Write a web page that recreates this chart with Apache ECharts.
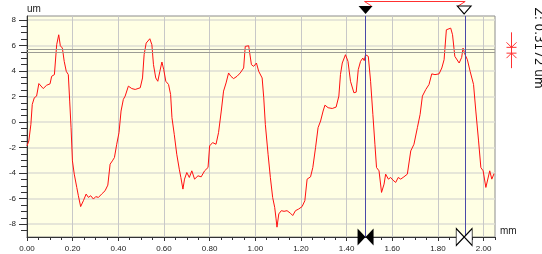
<!DOCTYPE html>
<html>
<head>
<meta charset="utf-8">
<script src="https://cdn.jsdelivr.net/npm/echarts@6/dist/echarts.min.js"></script>
<style>
  html, body { margin: 0; padding: 0; background: #fff; }
  #chart { width: 542px; height: 254px; }
</style>
</head>
<body>
<div id="chart"></div>
<script>
// profile trace: position along the scan (mm) and height (um)
const distanceMm = [
  0.000, 0.008, 0.017, 0.023, 0.032, 0.042, 0.052, 0.060, 0.071, 0.086,
  0.101, 0.108, 0.120, 0.130, 0.139, 0.146, 0.155, 0.163, 0.172, 0.181,
  0.187, 0.193, 0.199, 0.207, 0.218, 0.225, 0.235, 0.247, 0.259, 0.269,
  0.279, 0.291, 0.301, 0.313, 0.327, 0.342, 0.354, 0.364, 0.374, 0.383,
  0.393, 0.403, 0.412, 0.422, 0.430, 0.444, 0.459, 0.474, 0.496, 0.506,
  0.513, 0.522, 0.538, 0.547, 0.554, 0.564, 0.573, 0.582, 0.591, 0.599,
  0.608, 0.620, 0.629, 0.635, 0.645, 0.656, 0.667, 0.674, 0.683, 0.690,
  0.700, 0.711, 0.722, 0.734, 0.749, 0.763, 0.778, 0.793, 0.800, 0.813,
  0.828, 0.839, 0.851, 0.861, 0.872, 0.883, 0.893, 0.905, 0.920, 0.934,
  0.949, 0.956, 0.971, 0.983, 0.993, 1.005, 1.015, 1.030, 1.037, 1.044,
  1.056, 1.066, 1.076, 1.085, 1.091, 1.095, 1.103, 1.114, 1.126, 1.139,
  1.154, 1.164, 1.176, 1.190, 1.205, 1.217, 1.227, 1.242, 1.252, 1.264,
  1.275, 1.286, 1.297, 1.305, 1.319, 1.337, 1.354, 1.366, 1.373, 1.381,
  1.395, 1.406, 1.417, 1.432, 1.442, 1.451, 1.461, 1.471, 1.477, 1.483,
  1.495, 1.505, 1.515, 1.524, 1.531, 1.542, 1.553, 1.564, 1.571, 1.583,
  1.593, 1.603, 1.615, 1.626, 1.637, 1.651, 1.666, 1.681, 1.695, 1.710,
  1.722, 1.732, 1.747, 1.761, 1.773, 1.787, 1.805, 1.817, 1.827, 1.837,
  1.856, 1.864, 1.874, 1.893, 1.904, 1.910, 1.919, 1.929, 1.941, 1.956,
  1.966, 1.978, 1.988, 1.998, 2.010, 2.017, 2.027, 2.036, 2.046
]
const heightUm = [
  -1.87, -1.48, -0.18, 1.38, 1.90, 2.03, 3.01, 2.94, 2.62, 2.88,
  2.99, 3.58, 3.71, 6.05, 6.83, 5.97, 5.79, 4.75, 3.97, 3.71,
  1.64, -0.44, -3.04, -4.08, -5.12, -5.77, -6.62, -6.16, -5.64, -5.90,
  -5.77, -6.03, -5.84, -5.90, -5.64, -5.38, -4.94, -3.30, -3.04, -2.78,
  -1.74, -0.83, 0.86, 1.77, 2.03, 2.81, 2.62, 2.55, 2.68, 3.45,
  5.27, 6.18, 6.52, 6.05, 4.49, 3.45, 3.19, 3.97, 4.70, 4.10,
  3.19, 2.94, 2.16, 0.34, -0.96, -2.52, -3.69, -4.34, -5.25, -4.47,
  -3.95, -4.34, -3.82, -4.47, -4.21, -4.29, -3.82, -3.56, -1.87, -1.61,
  -1.74, -0.83, 0.86, 2.42, 3.06, 3.84, 3.58, 3.40, 3.58, 3.84,
  4.23, 5.92, 5.97, 4.49, 4.36, 4.62, 3.97, 3.45, 1.90, -0.18,
  -2.52, -4.34, -5.90, -6.68, -7.58, -8.23, -7.19, -6.94, -6.99, -6.94,
  -7.14, -7.32, -6.94, -6.81, -6.62, -6.16, -4.47, -4.29, -3.56, -2.00,
  -0.44, 0.08, 0.86, 1.32, 1.12, 1.06, 1.17, 2.03, 3.71, 4.62,
  5.27, 4.75, 3.19, 2.29, 2.34, 4.10, 4.75, 5.01, 4.81, 5.27,
  5.14, 3.19, 0.60, -1.74, -3.56, -3.82, -5.51, -4.86, -4.08, -4.47,
  -4.34, -4.55, -4.73, -4.34, -4.47, -4.29, -4.08, -2.26, -1.74, -0.44,
  0.60, 2.03, 2.55, 2.94, 3.77, 3.71, 3.77, 4.23, 4.88, 7.22,
  7.35, 6.83, 5.14, 4.62, 5.06, 5.79, 5.27, 4.88, 3.97, 2.94,
  0.86, -1.48, -3.56, -3.82, -5.12, -5.25, -3.82, -4.47, -4.03
]

// cursors
const cursorMm = [1.483, 1.915]
const levelUm = [5.69, 5.47]
const zText = 'Z: 0.3172 um'

// axis ranges and ticks
const xRange = [0, 2.05]
const yRange = [-9, 8.3]
const xMajorTicks = [0, 0.2, 0.4, 0.6, 0.8, 1.0, 1.2, 1.4, 1.6, 1.8, 2.0]
const yMajorTicks = [-8, -6, -4, -2, 0, 2, 4, 6, 8]
const xMinorTicks = []
for (let i = 0; i <= 41; i++) xMinorTicks.push(+(i * 0.05).toFixed(2))
const yMinorTicks = []
for (let i = -17; i <= 16; i++) yMinorTicks.push(i * 0.5)

const axisColor = '#333'
const labelFont = { fontFamily: 'Liberation Sans', fontSize: 8, color: '#222' }

const chart = echarts.init(document.getElementById('chart'), null, { renderer: 'canvas' })

const option = {
  animation: false,
  grid: {
    left: 27, top: 16, right: 47, bottom: 17,
    show: true,
    backgroundColor: '#ffffe4',
    borderColor: '#8c8c8c',
    borderWidth: 1
  },
  xAxis: [
    {
      type: 'value', min: xRange[0], max: xRange[1], interval: 0.2, position: 'bottom',
      name: 'mm', nameLocation: 'end', nameGap: 5,
      nameTextStyle: { fontFamily: 'Liberation Sans', fontSize: 10, color: '#222', verticalAlign: 'bottom', padding: [0, 0, 1, 0] },
      axisLine: { onZero: false, lineStyle: { color: axisColor } },
      axisTick: { customValues: xMajorTicks, length: 4, lineStyle: { color: axisColor } },
      axisLabel: { customValues: xMajorTicks, margin: 8, formatter: v => v.toFixed(2), ...labelFont },
      splitLine: { show: true, lineStyle: { color: '#c8c8c8', width: 1 } }
    },
    {
      type: 'value', min: xRange[0], max: xRange[1], interval: 0.2, position: 'bottom',
      axisLine: { show: false, onZero: false },
      axisTick: { customValues: xMinorTicks, length: 3, lineStyle: { color: axisColor } },
      axisLabel: { show: false },
      splitLine: { show: false }
    }
  ],
  yAxis: [
    {
      type: 'value', min: yRange[0], max: yRange[1], splitNumber: 9, position: 'left',
      name: 'um', nameLocation: 'end', nameGap: 2,
      nameTextStyle: { fontFamily: 'Liberation Sans', fontSize: 10, color: '#222', align: 'left', verticalAlign: 'bottom' },
      axisLine: { onZero: false, lineStyle: { color: axisColor } },
      axisTick: { customValues: yMajorTicks, length: 8, lineStyle: { color: axisColor } },
      axisLabel: { customValues: yMajorTicks, margin: 11, ...labelFont },
      splitLine: { show: true, lineStyle: { color: '#deded4', width: 1.5 } }
    },
    {
      type: 'value', min: yRange[0], max: yRange[1], splitNumber: 9, position: 'left',
      axisLine: { show: false, onZero: false },
      axisTick: { customValues: yMinorTicks, length: 6, lineStyle: { color: axisColor } },
      axisLabel: { show: false },
      splitLine: { show: false }
    }
  ],
  series: [
    {
      type: 'line',
      data: distanceMm.map((x, i) => [x, heightUm[i]]),
      symbol: 'none',
      lineStyle: { color: '#ff1010', width: 1 },
      markLine: {
        silent: true,
        symbol: 'none',
        label: { show: false },
        data: [
          { yAxis: levelUm[0], lineStyle: { color: '#9c9c94', width: 1, type: 'solid' } },
          { yAxis: levelUm[1], lineStyle: { color: '#9c9c94', width: 1, type: 'solid' } },
          { xAxis: cursorMm[0], lineStyle: { color: '#4a4aa8', width: 1, type: 'solid' } },
          { xAxis: cursorMm[1], lineStyle: { color: '#4a4aa8', width: 1, type: 'solid' } }
        ]
      },
      markPoint: {
        silent: true,
        label: { show: false },
        data: [
          // top cursor handles
          { coord: [cursorMm[0], yRange[1]], symbol: 'triangle', symbolSize: [14, 8], symbolRotate: 180, symbolOffset: [0, -6], itemStyle: { color: '#000' } },
          { coord: [cursorMm[1], yRange[1]], symbol: 'triangle', symbolSize: [14, 8], symbolRotate: 180, symbolOffset: [0, -6], itemStyle: { color: '#fff', borderColor: '#000', borderWidth: 1 } },
          // bottom bow-tie handles
          { coord: [cursorMm[0], yRange[0]], symbol: 'triangle', symbolSize: [17, 8], symbolRotate: -90, symbolOffset: [-4, 0], itemStyle: { color: '#000' } },
          { coord: [cursorMm[0], yRange[0]], symbol: 'triangle', symbolSize: [17, 8], symbolRotate: 90, symbolOffset: [4, 0], itemStyle: { color: '#000' } },
          { coord: [cursorMm[1], yRange[0]], symbol: 'triangle', symbolSize: [17, 8], symbolRotate: -90, symbolOffset: [-4, 0], itemStyle: { color: '#fff', borderColor: '#000', borderWidth: 1 } },
          { coord: [cursorMm[1], yRange[0]], symbol: 'triangle', symbolSize: [17, 8], symbolRotate: 90, symbolOffset: [4, 0], itemStyle: { color: '#fff', borderColor: '#000', borderWidth: 1 } }
        ]
      }
    }
  ]
}

chart.setOption(option)

// decorations outside the plot, placed from the cursor values
const leftPx = chart.convertToPixel({ xAxisIndex: 0 }, cursorMm[0])
const rightPx = chart.convertToPixel({ xAxisIndex: 0 }, cursorMm[1])
const lvlA = chart.convertToPixel({ yAxisIndex: 0 }, levelUm[0])
const lvlB = chart.convertToPixel({ yAxisIndex: 0 }, levelUm[1])
const zx = 511.5
const red = '#ff3030'
const stroke = { stroke: red, lineWidth: 1, fill: 'none' }

chart.setOption({
  graphic: [
    // double arrow between cursors (cut at the top edge)
    { type: 'polyline', silent: true, shape: { points: [[leftPx + 6, 6], [leftPx - 1, 1.5], [rightPx + 1, 1.5], [rightPx - 6, 6]] }, style: stroke },
    // Z marker
    { type: 'line', silent: true, shape: { x1: zx, y1: lvlA - 17, x2: zx, y2: lvlB + 16 }, style: stroke },
    { type: 'polyline', silent: true, shape: { points: [[zx - 5, lvlA - 7], [zx, lvlA - 2], [zx + 5, lvlA - 7]] }, style: stroke },
    { type: 'polyline', silent: true, shape: { points: [[zx - 5, lvlB + 6], [zx, lvlB + 1], [zx + 5, lvlB + 6]] }, style: stroke },
    { type: 'line', silent: true, shape: { x1: zx - 5, y1: lvlA - 2, x2: zx + 5, y2: lvlA - 2 }, style: stroke },
    { type: 'line', silent: true, shape: { x1: zx - 5, y1: lvlB + 1, x2: zx + 5, y2: lvlB + 1 }, style: stroke },
    {
      type: 'text', silent: true, x: 538, y: 48, rotation: -Math.PI / 2,
      style: { text: zText, fontFamily: 'DejaVu Sans', fontSize: 12, fill: '#111', textAlign: 'center', textVerticalAlign: 'middle' }
    }
  ]
})
</script>
</body>
</html>
